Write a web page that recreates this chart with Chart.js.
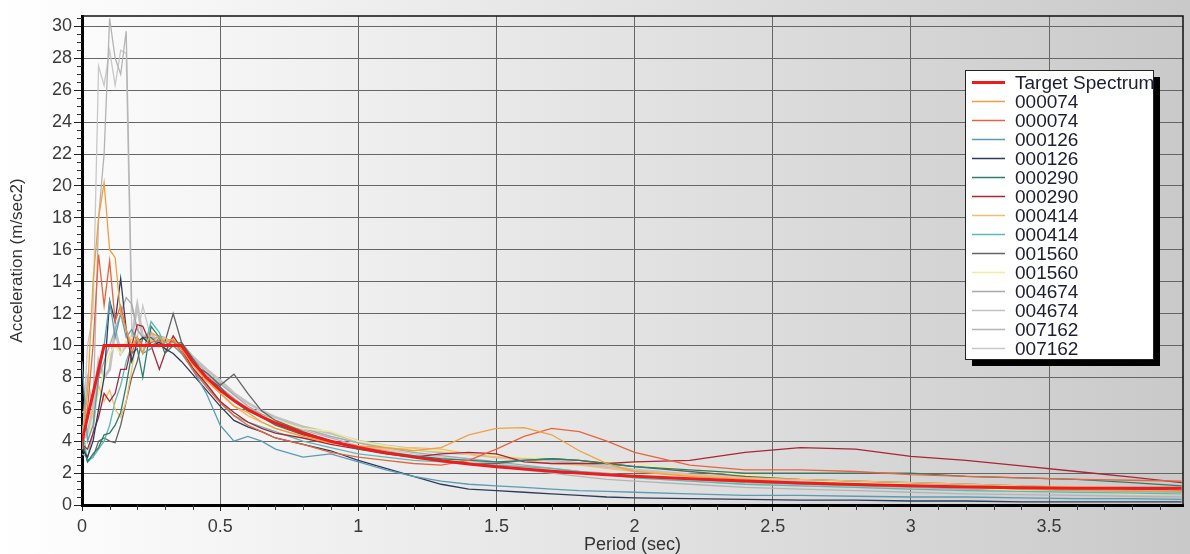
<!DOCTYPE html>
<html lang="en">
<head>
  <meta charset="UTF-8">
  <title>Response Spectra</title>
  <style>
    html, body { margin: 0; padding: 0; }
    #wrap { width: 1190px; height: 554px; }
  </style>
</head>
<body>
  <div id="wrap">
    <canvas id="myChart" width="1190" height="554"></canvas>
  </div>

  <script src="https://cdn.jsdelivr.net/npm/chart.js"></script>

  <script>
    // period (sec), shared by every curve
    const periods = [0, 0.02, 0.04, 0.06, 0.08, 0.1, 0.12, 0.14, 0.16, 0.18, 0.2, 0.22, 0.25, 0.28, 0.3, 0.33, 0.36, 0.4, 0.45, 0.5,
      0.55, 0.6, 0.65, 0.7, 0.8, 0.9, 1.0, 1.1, 1.2, 1.3, 1.4, 1.5, 1.6, 1.7, 1.8, 1.9, 2.0, 2.2, 2.4, 2.6, 2.8, 3.0, 3.2, 3.4, 3.6, 3.8, 3.98];

    const targetSpectrum = [4.0, 5.5, 7.0, 8.5, 10, 10, 10, 10, 10, 10, 10, 10, 10, 10, 10, 10, 10, 9.0, 8.0, 7.2,
      6.55, 6.0, 5.54, 5.14, 4.5, 4.0, 3.6, 3.27, 3.0, 2.77, 2.57, 2.4, 2.25, 2.12, 2.0, 1.89, 1.8, 1.64, 1.5, 1.38, 1.29, 1.2, 1.13, 1.08, 1.05, 1.05, 1.05];

    const s000074a = [4, 7, 14, 18, 20.2, 16, 15.5, 12, 11, 10, 10.5, 9.5, 10.8, 10.5, 10.2, 10.4, 9.8, 8.8, 7.8, 7.0,
      6.2, 5.8, 5.2, 4.8, 4.3, 3.9, 3.7, 3.6, 3.4, 3.6, 4.4, 4.8, 4.85, 4.4, 3.4, 2.6, 2.1, 1.8, 1.6, 1.4, 1.3, 1.2, 1.1, 1.0, 0.95, 0.9, 0.85];
    const s000074b = [3.5, 6, 10, 15.7, 12.5, 15.3, 11.5, 12.5, 11, 9.5, 10.5, 10, 10.2, 10.3, 10.0, 10.3, 9.6, 8.5, 7.4, 6.4,
      5.6, 5.0, 4.6, 4.2, 3.8, 3.3, 3.0, 2.8, 2.6, 2.5, 2.8, 3.5, 4.3, 4.8, 4.6, 4.0, 3.3, 2.5, 2.2, 2.2, 2.1, 1.9, 1.8, 1.7, 1.6, 1.55, 1.5];
    const s000126a = [9, 4, 5, 8, 10, 12.8, 10.5, 12, 10.5, 11, 10.2, 9.5, 9.8, 10.5, 10.2, 10.0, 9.5, 8.5, 7.0, 5.0,
      4.0, 4.3, 4.0, 3.5, 3.0, 3.2, 2.7, 2.2, 1.8, 1.5, 1.3, 1.2, 1.1, 1.0, 0.9, 0.85, 0.8, 0.7, 0.6, 0.6, 0.55, 0.5, 0.5, 0.45, 0.4, 0.4, 0.35];
    const s000126b = [3.5, 3, 4, 6, 8, 12.8, 11.5, 14.2, 11, 9, 10.2, 10.5, 10, 10.2, 9.8, 9.5, 9.0, 8.2, 7.2, 6.2,
      5.3, 4.9, 4.6, 4.2, 3.8, 3.4, 2.8, 2.3, 1.8, 1.3, 1.0, 0.9, 0.8, 0.7, 0.6, 0.5, 0.45, 0.4, 0.35, 0.3, 0.3, 0.25, 0.25, 0.2, 0.2, 0.2, 0.2];
    const s000290a = [4, 2.7, 3.2, 3.6, 4.4, 4.5, 5.0, 5.8, 7.5, 9.5, 9.8, 8, 11.2, 10.5, 9.5, 10, 10.2, 9.2, 8.0, 7.4,
      6.5, 5.9, 5.5, 5.0, 4.4, 4.0, 3.5, 3.3, 3.1, 2.9, 2.8, 2.7, 2.8, 2.9, 2.8, 2.6, 2.4, 2.2, 2.0, 2.0, 2.0, 2.0, 1.8, 1.7, 1.6, 1.4, 1.2];
    const s000290b = [3.8, 3.5, 4.5, 5.5, 7, 6.5, 7, 8.5, 8.5, 10, 11.3, 11.2, 10, 8.5, 9.5, 10.6, 9.8, 8.6, 7.6, 6.5,
      5.8, 5.2, 4.8, 4.5, 4.2, 3.8, 3.5, 3.2, 3.0, 3.2, 3.3, 3.2, 2.7, 2.6, 2.6, 2.6, 2.7, 2.8, 3.3, 3.6, 3.5, 3.05, 2.8, 2.45, 2.1, 1.75, 1.4];
    const s000414a = [5.8, 6, 5.5, 7.5, 6.5, 7.2, 6.0, 5.5, 6.5, 8.5, 10.5, 10, 10.3, 10.2, 10.5, 10.0, 9.6, 8.8, 7.8, 7.0,
      6.2, 5.6, 5.2, 4.8, 4.3, 3.9, 3.7, 3.5, 3.6, 3.5, 3.2, 3.0, 2.8, 2.6, 2.5, 2.3, 2.1, 1.9, 1.7, 1.6, 1.5, 1.4, 1.3, 1.2, 1.15, 1.1, 1.0];
    const s000414b = [5, 2.7, 3.0, 3.5, 4.0, 5, 6.5, 7.5, 9, 10, 10.5, 9.5, 11.5, 10.8, 10, 10.2, 9.8, 8.6, 7.5, 6.5,
      5.6, 5.2, 4.9, 4.6, 4.0, 3.6, 3.2, 3.0, 2.8, 2.7, 2.6, 2.5, 2.4, 2.3, 2.1, 1.9, 1.7, 1.5, 1.3, 1.2, 1.1, 1.0, 0.9, 0.85, 0.8, 0.75, 0.7];
    const s001560a = [4, 2.8, 3, 4, 4.2, 4.0, 3.9, 5, 6.5, 8, 9, 10.5, 10.5, 10.0, 10.2, 12.0, 10.2, 8.8, 8.3, 7.5,
      8.2, 7.0, 5.9, 5.3, 4.6, 4.0, 3.6, 3.3, 3.0, 2.8, 2.6, 2.6, 2.8, 2.9, 2.8, 2.6, 2.4, 2.1, 1.8, 1.6, 1.5, 1.4, 1.3, 1.2, 1.1, 1.0, 0.95];
    const s001560b = [3.5, 4, 5.5, 7, 8.5, 9.5, 10, 9.5, 10.3, 10.5, 10, 9.8, 10.2, 10.4, 10, 10.2, 9.8, 9, 8, 7.2,
      6.5, 6, 5.6, 5.3, 4.8, 4.6, 4.0, 3.7, 3.5, 3.4, 3.2, 3.1, 3.0, 2.9, 2.8, 2.7, 2.6, 2.2, 1.9, 1.6, 1.4, 1.3, 1.1, 0.9, 0.8, 0.7, 0.7];
    const s004674a = [3.2, 3.0, 4.5, 8, 9, 10, 11, 12, 13, 12.6, 11, 10.5, 10.3, 10.6, 10.5, 10.2, 10.0, 9.2, 8.3, 7.6,
      6.9, 6.2, 5.7, 5.3, 4.8, 4.3, 3.9, 3.6, 3.3, 3.1, 2.9, 2.7, 2.5, 2.3, 2.1, 2.0, 1.8, 1.6, 1.4, 1.3, 1.2, 1.1, 1.0, 0.95, 0.9, 0.85, 0.8];
    const s004674b = [4, 4.5, 6, 9, 8, 8.5, 11, 9.5, 10, 10.5, 12.5, 10.5, 10.8, 10, 10.4, 10.2, 10.1, 9.3, 8.5, 7.8,
      7.0, 6.4, 5.9, 5.5, 4.9, 4.5, 4.0, 3.7, 3.5, 3.3, 3.2, 3.0, 2.9, 2.8, 2.6, 2.4, 2.2, 1.9, 1.7, 1.5, 1.4, 1.3, 1.2, 1.1, 1.0, 0.95, 0.9];
    const s007162a = [3.8, 8, 6, 18, 22, 30.5, 28, 27, 29.7, 12.5, 11, 10.5, 10.5, 10.2, 10.3, 10.4, 9.8, 9, 8.2, 7.4,
      6.7, 6.0, 5.6, 5.2, 4.7, 4.2, 3.7, 3.4, 3.1, 2.8, 2.6, 2.4, 2.2, 2.0, 1.8, 1.6, 1.5, 1.3, 1.1, 1.0, 0.9, 0.8, 0.7, 0.65, 0.6, 0.55, 0.5];
    const s007162b = [3.5, 10, 12, 27.5, 26.3, 28.5, 26.3, 28.5, 28.3, 11, 10.5, 12.5, 10.4, 10.5, 10.2, 10.0, 9.6, 8.9, 8.0, 7.3,
      6.6, 6.1, 5.7, 5.3, 4.8, 4.3, 3.9, 3.5, 3.2, 3.0, 2.8, 2.6, 2.4, 2.2, 2.0, 1.9, 1.7, 1.5, 1.3, 1.2, 1.1, 1.0, 0.9, 0.85, 0.8, 0.75, 0.7];

    const seriesLabels = ['Target Spectrum', '000074', '000074', '000126', '000126', '000290', '000290',
      '000414', '000414', '001560', '001560', '004674', '004674', '007162', '007162'];
    const seriesValues = [targetSpectrum, s000074a, s000074b, s000126a, s000126b, s000290a, s000290b,
      s000414a, s000414b, s001560a, s001560b, s004674a, s004674b, s007162a, s007162b];
    const seriesColors = ['#ee1c1c', '#f0a040', '#e8643c', '#5a9cb4', '#2c3c5c', '#2e7e6c', '#a82636',
      '#f6bc6c', '#5cbab6', '#646464', '#eeeea0', '#a8a8a8', '#c2c2c2', '#b4b4b4', '#c8c8c8'];
    const seriesWidths = [3, 1.3, 1.3, 1.3, 1.3, 1.3, 1.3, 1.3, 1.3, 1.3, 1.5, 1.3, 2.8, 1.3, 1.3];

    const ctx = document.getElementById('myChart').getContext('2d');

    const dataSets = seriesValues.map((vals, i) => ({
      label: seriesLabels[i],
      data: periods.map((p, k) => ({ x: p, y: vals[k] })),
      borderColor: seriesColors[i],
      backgroundColor: seriesColors[i],
      borderWidth: seriesWidths[i],
      pointRadius: 0,
      tension: 0,
      fill: false
    }));

    // gray gradient behind everything
    const bgPlugin = {
      id: 'bg',
      beforeDraw(chart) {
        const c = chart.ctx;
        const g = c.createLinearGradient(0, 0, chart.width, 0);
        g.addColorStop(0, '#ffffff');
        g.addColorStop(1, '#c9c9c9');
        c.save();
        c.fillStyle = g;
        c.fillRect(0, 0, chart.width, chart.height);
        c.restore();
      }
    };

    // frame, minor ticks and boxed legend
    const framePlugin = {
      id: 'frame',
      afterDraw(chart) {
        const c = chart.ctx;
        const a = chart.chartArea;
        const xs = chart.scales.x, ys = chart.scales.y;
        c.save();
        c.strokeStyle = '#111';
        c.lineWidth = 1.5;
        c.beginPath();
        c.moveTo(a.left, a.top); c.lineTo(a.right, a.top); c.lineTo(a.right, a.bottom);
        c.stroke();

        c.lineWidth = 1;
        c.strokeStyle = '#333';
        c.beginPath();
        for (let v = 0.5; v <= 30.5; v += 0.5) {
          if (Math.abs(v % 2) < 1e-6) continue;
          const y = Math.round(ys.getPixelForValue(v)) + 0.5;
          c.moveTo(a.left - 5, y); c.lineTo(a.left, y);
        }
        for (let k = 1; k < 40; k++) {
          if (k % 5 === 0) continue;
          const x = Math.round(xs.getPixelForValue(k / 10)) + 0.5;
          c.moveTo(x, a.bottom); c.lineTo(x, a.bottom + 5);
        }
        c.stroke();

        // legend
        const lx = 965, ly = 70, lw = 188, lh = 289;
        c.fillStyle = '#000';
        c.fillRect(lx + 7, ly + 7, lw, lh);
        c.fillStyle = '#fff';
        c.fillRect(lx, ly, lw, lh);
        c.strokeStyle = '#222';
        c.lineWidth = 1;
        c.strokeRect(lx + 0.5, ly + 0.5, lw, lh);
        c.beginPath();
        c.rect(lx + 1, ly + 1, lw - 1, lh - 1);
        c.clip();
        c.font = '19px "Liberation Sans", Arial, sans-serif';
        c.textBaseline = 'middle';
        chart.data.datasets.forEach((ds, i) => {
          const cy = ly + 12.5 + i * 19;
          c.strokeStyle = ds.borderColor;
          c.lineWidth = i === 0 ? 3 : 1.5;
          c.beginPath();
          c.moveTo(lx + 7, cy); c.lineTo(lx + 40, cy);
          c.stroke();
          c.fillStyle = '#1c1c34';
          c.fillText(ds.label, lx + 50, cy + 1);
        });
        c.restore();
      }
    };

    const tickFont = { family: '"Liberation Sans", Arial, sans-serif', size: 18 };

    let chart = new Chart(ctx, {
      type: 'line',
      data: { datasets: dataSets },
      plugins: [bgPlugin, framePlugin],
      options: {
        responsive: false,
        animation: false,
        events: [],
        layout: { padding: { left: 0, top: 16, right: 7, bottom: 0 } },
        plugins: {
          legend: { display: false },
          tooltip: { enabled: false }
        },
        scales: {
          x: {
            type: 'linear',
            min: 0,
            max: 3.985,
            afterFit(scale) { scale.height = 49; },
            ticks: {
              stepSize: 0.5,
              includeBounds: false,
              maxRotation: 0,
              autoSkip: false,
              padding: 5,
              color: '#3a3a3a',
              font: tickFont,
              callback: (v) => String(v)
            },
            grid: { color: '#666', lineWidth: 1, tickLength: 6, tickColor: '#222' },
            border: { color: '#000', width: 3 },
            title: {
              display: true,
              text: 'Period (sec)',
              color: '#333',
              font: { family: '"Liberation Sans", Arial, sans-serif', size: 18, lineHeight: 1 },
              padding: { top: 0, bottom: 0 }
            }
          },
          y: {
            min: 0,
            max: 30.65,
            afterFit(scale) { scale.width = 82; },
            ticks: {
              stepSize: 2,
              includeBounds: false,
              padding: 2,
              color: '#3a3a3a',
              font: tickFont
            },
            grid: { color: '#666', lineWidth: 1, tickLength: 8, tickColor: '#222' },
            border: { color: '#000', width: 3 },
            title: {
              display: true,
              text: 'Acceleration (m/sec2)',
              color: '#333',
              font: { family: '"Liberation Sans", Arial, sans-serif', size: 17, lineHeight: 1 },
              padding: { top: 9, bottom: 0 }
            }
          }
        }
      }
    });
  </script>
</body>
</html>
